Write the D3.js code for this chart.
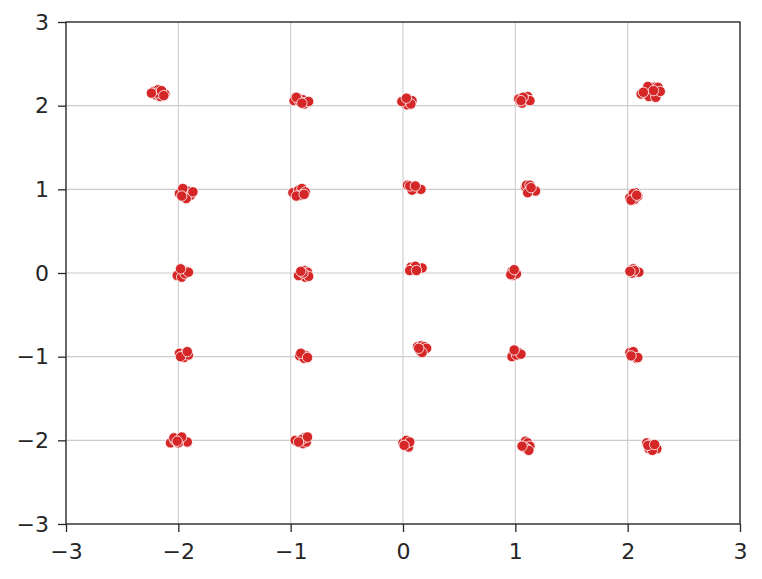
<!DOCTYPE html>
<html><head><meta charset="utf-8">
<script src="https://cdn.jsdelivr.net/npm/d3@7"></script>
<style>body{margin:0;background:#fff}</style>
</head><body>
<script>
// Data points, grouped by row of clusters
const row2X = [-2.22,-2.18,-2.14,-2.20,-2.16,-2.12,-2.19,-2.15,-2.24,-2.13,
  -0.97,-0.93,-0.89,-0.86,-0.88,-0.92,-0.84,-0.95,-0.90,
  0.01,0.05,0.02,0.06,0.08,0.04,-0.01,0.07,0.03,
  1.04,1.08,1.11,1.06,1.10,1.03,1.13,1.07,1.05,
  2.12,2.16,2.20,2.24,2.27,2.22,2.19,2.25,2.18,2.29,2.14,2.23];
const row2Y = [2.17,2.19,2.16,2.13,2.11,2.14,2.15,2.18,2.15,2.12,
  2.06,2.09,2.07,2.04,2.02,2.05,2.05,2.10,2.03,
  2.06,2.08,2.02,2.04,2.06,2.01,2.05,2.02,2.09,
  2.05,2.09,2.11,2.03,2.07,2.08,2.06,2.10,2.06,
  2.14,2.17,2.20,2.22,2.22,2.15,2.11,2.10,2.23,2.17,2.16,2.18];
const row1X = [-1.99,-1.95,-1.92,-1.96,-1.89,-1.93,-1.87,-1.97,
  -0.98,-0.93,-0.90,-0.87,-0.91,-0.95,-0.88,
  0.04,0.07,0.10,0.13,0.16,0.08,0.06,0.11,
  1.09,1.12,1.15,1.18,1.10,1.13,1.11,1.14,
  2.07,2.04,2.02,2.06,2.09,2.05,2.03,2.08];
const row1Y = [0.95,0.95,0.98,1.01,0.93,0.89,0.97,0.92,
  0.96,0.99,1.01,0.97,0.93,0.92,0.94,
  1.05,1.03,1.00,1.01,1.00,0.99,1.04,1.04,
  1.03,1.00,0.99,0.98,1.05,1.05,0.96,1.02,
  0.96,0.93,0.90,0.88,0.92,0.95,0.87,0.93];
const row0X = [-1.99,-1.96,-1.93,-2.01,-1.97,-1.94,-1.91,-1.98,
  -0.90,-0.88,-0.85,-0.87,-0.93,-0.84,-0.89,-0.91,
  0.07,0.10,0.13,0.17,0.08,0.11,0.06,0.12,
  0.97,1.00,0.98,1.01,0.96,0.99,
  2.03,2.05,2.08,2.10,2.04,2.06,2.02];
const row0Y = [0.00,0.03,0.02,-0.03,-0.05,-0.01,0.01,0.05,
  -0.02,0.03,0.01,-0.05,-0.03,-0.04,0.00,0.02,
  0.07,0.06,0.05,0.06,0.04,0.08,0.03,0.03,
  0.02,0.01,-0.03,-0.01,-0.02,0.04,
  0.04,0.05,0.02,0.01,0.00,0.03,0.02];
const rowm1X = [-1.96,-1.99,-1.93,-1.95,-1.91,-1.98,-1.92,
  -0.92,-0.89,-0.86,-0.88,-0.91,-0.85,
  0.13,0.16,0.19,0.15,0.18,0.21,0.17,0.14,
  0.98,1.00,1.03,0.97,1.01,1.05,0.99,
  2.04,2.02,2.06,2.08,2.05,2.09,2.03];
const rowm1Y = [-0.97,-0.96,-0.95,-1.01,-0.98,-1.00,-0.94,
  -0.99,-0.97,-0.99,-1.02,-0.96,-1.01,
  -0.88,-0.87,-0.88,-0.93,-0.92,-0.90,-0.95,-0.90,
  -0.97,-0.93,-0.95,-1.00,-0.98,-0.97,-0.92,
  -0.97,-0.95,-0.99,-1.02,-0.94,-1.01,-0.99];
const rowm2X = [-2.07,-2.03,-1.99,-1.96,-1.92,-2.00,-2.04,-1.97,-2.01,
  -0.96,-0.92,-0.89,-0.86,-0.88,-0.90,-0.85,-0.93,
  0.02,0.00,0.04,0.05,0.03,0.06,0.01,
  1.07,1.09,1.11,1.13,1.10,1.08,1.12,1.06,
  2.17,2.20,2.23,2.26,2.19,2.22,2.18,2.24];
const rowm2Y = [-2.03,-2.00,-1.98,-2.01,-2.02,-2.03,-1.97,-1.96,-2.01,
  -2.00,-2.01,-2.04,-2.02,-1.97,-1.99,-1.96,-2.02,
  -2.02,-2.03,-2.05,-2.08,-2.00,-2.02,-2.06,
  -2.05,-2.01,-2.03,-2.07,-2.10,-2.08,-2.12,-2.07,
  -2.03,-2.05,-2.08,-2.10,-2.10,-2.12,-2.06,-2.05];
const xTicks = [-3,-2,-1,0,1,2,3];
const yTicks = [-3,-2,-1,0,1,2,3];

const allX = [].concat(row2X,row1X,row0X,rowm1X,rowm2X);
const allY = [].concat(row2Y,row1Y,row0Y,rowm1Y,rowm2Y);
const points = allX.map((x,i)=>({x, y: allY[i]}));

const W=762,H=579, L=66,R=740,T=22,B=524;
const svg=d3.select("body").append("svg").attr("width",W).attr("height",H)
  .style("font-family","'DejaVu Sans', sans-serif");
const x=d3.scaleLinear().domain([-3,3]).range([L,R]);
const y=d3.scaleLinear().domain([-3,3]).range([B,T]);
const fmt = d=> d<0 ? "\u2212"+Math.abs(d) : String(d);

// grid
svg.append("g").selectAll("line").data(xTicks).join("line")
  .attr("x1",d=>x(d)).attr("x2",d=>x(d)).attr("y1",T).attr("y2",B)
  .attr("stroke","#cccccc").attr("stroke-width",1.1);
svg.append("g").selectAll("line").data(yTicks).join("line")
  .attr("y1",d=>y(d)).attr("y2",d=>y(d)).attr("x1",L).attr("x2",R)
  .attr("stroke","#cccccc").attr("stroke-width",1.1);

// points
svg.append("g").selectAll("circle").data(points).join("circle")
  .attr("cx",d=>x(d.x)).attr("cy",d=>y(d.y)).attr("r",5.2)
  .attr("fill","#d62728").attr("stroke","#ffffff").attr("stroke-width",0.8);

// axes
const xa=d3.axisBottom(x).tickValues(xTicks).tickFormat(fmt).tickSize(8).tickPadding(11);
const ya=d3.axisLeft(y).tickValues(yTicks).tickFormat(fmt).tickSize(8).tickPadding(9);
const gx=svg.append("g").attr("transform",`translate(0,${B})`).call(xa);
const gy=svg.append("g").attr("transform",`translate(${L},0)`).call(ya);
[gx,gy].forEach(g=>{
  g.select(".domain").remove();
  g.selectAll(".tick line").attr("stroke","#262626").attr("stroke-width",1.3);
  g.selectAll("text").attr("fill","#262626").style("font-size","22px").style("font-family","'DejaVu Sans', sans-serif");
});
// spines
svg.append("rect").attr("x",L).attr("y",T).attr("width",R-L).attr("height",B-T)
  .attr("fill","none").attr("stroke","#262626").attr("stroke-width",1.3);
</script>
</body></html>
